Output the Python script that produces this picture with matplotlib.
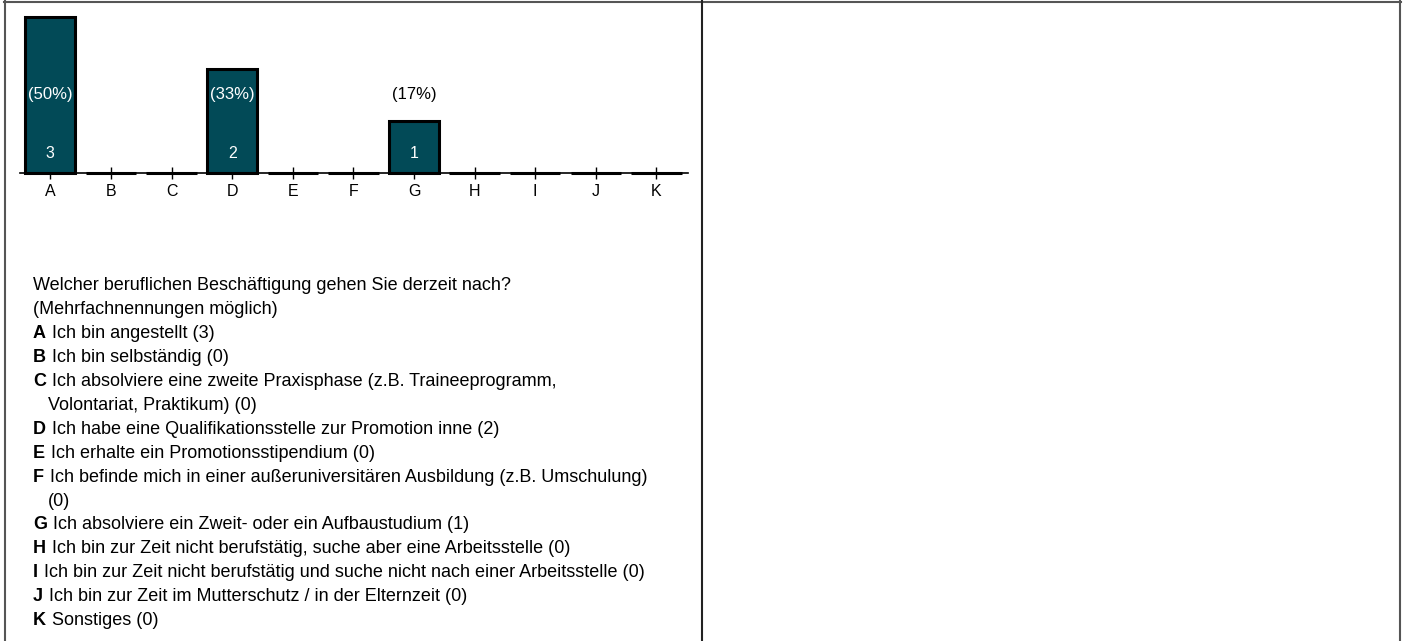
import matplotlib
matplotlib.use("Agg")
import matplotlib.pyplot as plt
from matplotlib.lines import Line2D

plt.rcParams['font.family'] = ['Liberation Sans', 'DejaVu Sans']

categories = ["A", "B", "C", "D", "E", "F", "G", "H", "I", "J", "K"]
counts = [3, 0, 0, 2, 0, 0, 1, 0, 0, 0, 0]
percents = ["(50%)", "", "", "(33%)", "", "", "(17%)", "", "", "", ""]
question = ["Welcher beruflichen Beschäftigung gehen Sie derzeit nach?",
            "(Mehrfachnennungen möglich)"]
answers = [
    ("A", ["Ich bin angestellt (3)"]),
    ("B", ["Ich bin selbständig (0)"]),
    ("C", ["Ich absolviere eine zweite Praxisphase (z.B. Traineeprogramm,",
           "Volontariat, Praktikum) (0)"]),
    ("D", ["Ich habe eine Qualifikationsstelle zur Promotion inne (2)"]),
    ("E", ["Ich erhalte ein Promotionsstipendium (0)"]),
    ("F", ["Ich befinde mich in einer außeruniversitären Ausbildung (z.B. Umschulung)",
           "(0)"]),
    ("G", ["Ich absolviere ein Zweit- oder ein Aufbaustudium (1)"]),
    ("H", ["Ich bin zur Zeit nicht berufstätig, suche aber eine Arbeitsstelle (0)"]),
    ("I", ["Ich bin zur Zeit nicht berufstätig und suche nicht nach einer Arbeitsstelle (0)"]),
    ("J", ["Ich bin zur Zeit im Mutterschutz / in der Elternzeit (0)"]),
    ("K", ["Sonstiges (0)"]),
]

W, H = 1404, 641
fig = plt.figure(figsize=(W / 100, H / 100), dpi=100)

def fx(px):
    return px / W

def fy(py):
    return 1 - py / H

# frame lines
border = "#555555"
fig.add_artist(Line2D([fx(4), fx(1401)], [fy(1.5), fy(1.5)], color=border, lw=1.5))
fig.add_artist(Line2D([fx(5), fx(5)], [fy(1), fy(641)], color=border, lw=1.5))
fig.add_artist(Line2D([fx(1400), fx(1400)], [fy(1), fy(641)], color=border, lw=1.5))
fig.add_artist(Line2D([fx(702), fx(702)], [fy(1), fy(641)], color="#222222", lw=1.5))

# bar chart axes
ax = fig.add_axes([fx(20), fy(173), fx(688) - fx(20), fy(17) - fy(173)])
x = list(range(len(categories)))
bars = ax.bar(x, counts, width=0.83, color="#024a57", edgecolor="black",
              linewidth=2.2, clip_on=False, zorder=3)
ax.set_xlim(-0.5, 10.52)
ax.set_ylim(0, 3)
for s in ["top", "right", "left"]:
    ax.spines[s].set_visible(False)
ax.spines["bottom"].set_linewidth(1.2)
ax.set_yticks([])
ax.set_xticks(x)
ax.set_xticklabels(categories, fontsize=11.5)
ax.tick_params(axis="x", direction="inout", length=8, width=1, pad=4)
ax.patch.set_alpha(0)

for xi, c, p in zip(x, counts, percents):
    if c > 0:
        ax.text(xi, 0.38, str(c), ha="center", va="center", color="white", fontsize=11.5, zorder=4)
    if p:
        col = "white" if c > 1.5 else "black"
        ax.text(xi, 1.5, p, ha="center", va="center", color=col, fontsize=12, zorder=4)

# description text
fs = 13
y = 286
step = 23.9
for line in question:
    fig.text(fx(33), fy(y), line, fontsize=fs, va="center", ha="left")
    y += step
for letter, lines in answers:
    t = fig.text(fx(33), fy(y), letter, fontsize=fs, fontweight="bold", va="center", ha="left")
    ax.annotate(lines[0], xy=(1, 0.5), xycoords=t, xytext=(6, 0), textcoords="offset pixels",
                fontsize=fs, va="center", ha="left", annotation_clip=False)
    y += step
    for extra in lines[1:]:
        fig.text(fx(48), fy(y), extra, fontsize=fs, va="center", ha="left")
        y += step

fig.savefig("out.png", dpi=100)
